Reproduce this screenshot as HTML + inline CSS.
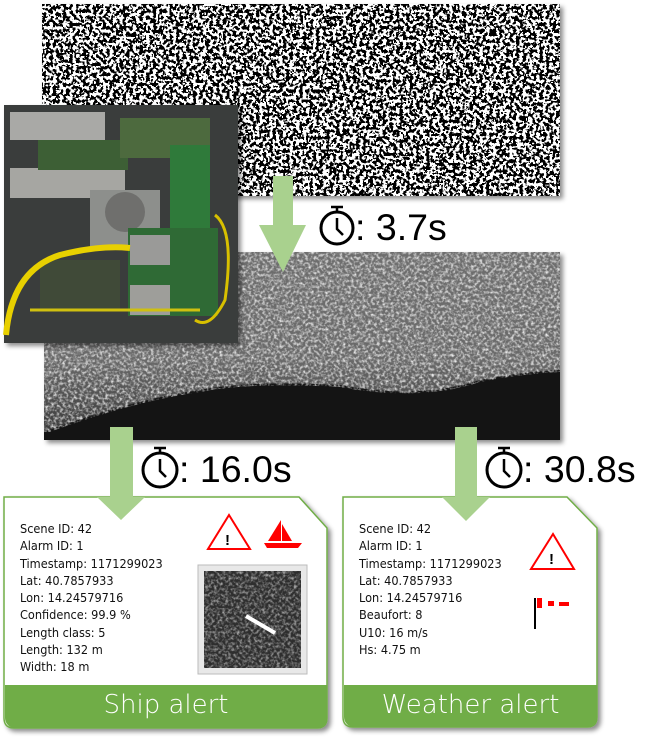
<!DOCTYPE html>
<html><head><meta charset="utf-8"><style>
body{margin:0;width:660px;height:753px;background:#fff;position:relative;overflow:hidden;font-family:"Liberation Sans",sans-serif}
.abs{position:absolute}
.t{position:absolute;font-size:37.5px;color:#000;line-height:1}
.card{position:absolute;font-family:"DejaVu Sans Condensed","DejaVu Sans","Liberation Sans",sans-serif;font-size:12.6px;line-height:17.3px;color:#111}
.band{position:absolute;background:#70ad47;color:#fff;font-family:"DejaVu Sans","Liberation Sans",sans-serif;font-size:26px;text-align:center;font-weight:300}
</style></head><body>
<svg class="abs" style="left:0;top:0" width="660" height="753">
<defs>
<filter id="nz" x="0" y="0" width="100%" height="100%">
<feTurbulence type="fractalNoise" baseFrequency="0.3" numOctaves="2" seed="3"/>
<feColorMatrix type="matrix" values="0 0 0 0 0  0 0 0 0 0  0 0 0 0 0  1 0 0 0 0"/>
<feComponentTransfer><feFuncA type="discrete" tableValues="0 1"/></feComponentTransfer>
</filter>
<filter id="sh"><feDropShadow dx="3" dy="3" stdDeviation="2.5" flood-opacity="0.45"/></filter>
<filter id="sar" x="0" y="0" width="100%" height="100%">
<feTurbulence type="fractalNoise" baseFrequency="0.35" numOctaves="2" seed="7"/>
<feColorMatrix type="matrix" values="0 0 0 0 1  0 0 0 0 1  0 0 0 0 1  2.2 0 0 0 -0.9"/>
</filter>
<linearGradient id="land" x1="0" y1="0" x2="0" y2="1">
<stop offset="0" stop-color="#6e6e6e"/><stop offset="0.6" stop-color="#6a6a6a"/><stop offset="1" stop-color="#3a3a3a"/>
</linearGradient>
</defs>
<!-- noise -->
<rect x="42" y="4" width="518" height="192" fill="#fff" filter="url(#sh)"/>
<rect x="42" y="4" width="518" height="192" fill="#000" filter="url(#nz)"/>
<!-- SAR -->
<g filter="url(#sh)"><rect x="44" y="252" width="516" height="188" fill="#141414"/></g>
<path d="M44 252 H560 V370 Q520 372 480 380 Q420 400 340 385 Q250 380 200 390 Q130 400 44 432 Z" fill="url(#land)"/>
<path d="M44 252 H560 V370 Q520 372 480 380 Q420 400 340 385 Q250 380 200 390 Q130 400 44 432 Z" fill="#fff" filter="url(#sar)" opacity="0.9"/>
<path d="M560 372 Q520 374 480 382 Q420 402 340 387 Q250 382 200 392 Q130 402 44 434 V440 H560 Z" fill="#141414"/>
<!-- photo -->
<g filter="url(#sh)"><rect x="4" y="105" width="234" height="238" fill="#2b2b2b"/></g>
<rect x="4" y="105" width="234" height="238" fill="#3a3d3c"/>
<rect x="10" y="112" width="95" height="28" fill="#a9a9a6"/>
<rect x="10" y="168" width="115" height="30" fill="#a6a6a2"/>
<rect x="38" y="140" width="90" height="30" fill="#3d5f35"/>
<rect x="120" y="118" width="90" height="40" fill="#4d6a3e"/>
<rect x="170" y="145" width="40" height="85" fill="#2f7a3a"/>
<rect x="90" y="190" width="70" height="60" fill="#8d8f8c"/>
<circle cx="125" cy="212" r="20" fill="#6f6f6d"/>
<rect x="128" y="228" width="90" height="88" fill="#2f6a35"/>
<rect x="130" y="235" width="40" height="30" fill="#9a9a98"/>
<rect x="130" y="285" width="40" height="30" fill="#9e9e9a"/>
<rect x="40" y="260" width="80" height="50" fill="#404a38"/>
<path d="M6 335 Q12 270 60 255 Q100 245 130 248" stroke="#e8d000" stroke-width="6" fill="none"/>
<path d="M215 215 Q235 230 225 300 Q210 330 195 320" stroke="#d8c000" stroke-width="3" fill="none"/>
<path d="M30 310 H200" stroke="#cfc010" stroke-width="3"/>
<!-- top arrow -->
<path d="M273 176 H293 V225 H306 L283 272 L259 225 H273 Z" fill="#a9d18e"/>
<!-- timers -->
<g fill="none" stroke="#000" stroke-width="3">
<circle cx="337" cy="228" r="16"/><circle cx="160" cy="470" r="17"/><circle cx="504" cy="470" r="17"/>
</g>
<g stroke="#000" stroke-width="2.5" fill="none">
<path d="M337 208 V212 M331 207 H343 M337 218 V229 L343 235"/>
<path d="M160 449 V453 M154 448 H166 M160 459 V471 L166 477"/>
<path d="M504 449 V453 M498 448 H510 M504 459 V471 L510 477"/>
</g>
<!-- cards -->
<g filter="url(#sh)">
<path d="M4 497 H299 L327 528 V718 Q327 728 317 728 H14 Q4 728 4 718 Z" fill="#fff" stroke="#70ad47" stroke-width="1.5"/>
<path d="M343 497 H567 L597 528 V717 Q597 727 587 727 H353 Q343 727 343 717 Z" fill="#fff" stroke="#70ad47" stroke-width="1.5"/>
</g>
<!-- card arrows -->
<path d="M110 427 H133 V497 H145 L121 520 L97 497 H110 Z" fill="#a9d18e"/>
<path d="M455 427 H477 V497 H490 L466 521 L442 497 H455 Z" fill="#a9d18e"/>
<!-- icons -->
<path d="M229 515 L250 549 H208 Z" fill="none" stroke="red" stroke-width="2"/>
<text x="225" y="545" font-size="15" font-weight="bold" font-family="Liberation Sans">!</text>
<path d="M281 520 V541 H268 Z" fill="red"/><path d="M282 524 L292 541 H282 Z" fill="red"/>
<path d="M264 543 H302 L298 548 H267 Z" fill="red"/>
<path d="M553 534 L574 569 H531 Z" fill="none" stroke="red" stroke-width="2"/>
<text x="549" y="564" font-size="15" font-weight="bold" font-family="Liberation Sans">!</text>
<path d="M535 598 V629" stroke="#000" stroke-width="2"/>
<path d="M537 598 H542 V608 H537 Z M548 601 H554 V606 H548 Z M559 602 H569 V606 H559 Z" fill="red"/>
<!-- thumbnail -->
<rect x="198" y="565" width="109" height="109" fill="#e8e8e8" stroke="#bbb"/>
<rect x="204" y="571" width="97" height="97" fill="#2e2e2e"/>
<rect x="204" y="571" width="97" height="97" fill="#fff" filter="url(#sar)" opacity="0.6"/>
<path d="M246 616 L275 633" stroke="#fff" stroke-width="4"/>
</svg>
<div class="t" style="left:355px;top:209px">: 3.7s</div>
<div class="t" style="left:179px;top:451px">: 16.0s</div>
<div class="t" style="left:523px;top:451px">: 30.8s</div>
<div class="card" style="left:20px;top:520px">Scene ID: 42<br>Alarm ID: 1<br>Timestamp: 1171299023<br>Lat: 40.7857933<br>Lon: 14.24579716<br>Confidence: 99.9 %<br>Length class: 5<br>Length: 132 m<br>Width: 18 m</div>
<div class="card" style="left:359px;top:520px">Scene ID: 42<br>Alarm ID: 1<br>Timestamp: 1171299023<br>Lat: 40.7857933<br>Lon: 14.24579716<br>Beaufort: 8<br>U10: 16 m/s<br>Hs: 4.75 m</div>
<div class="band" style="left:5px;top:685px;width:322px;height:43px;line-height:40px;border-radius:0 0 10px 10px">Ship alert</div>
<div class="band" style="left:344px;top:685px;width:253px;height:42px;line-height:40px;border-radius:0 0 10px 10px">Weather alert</div>
</body></html>
